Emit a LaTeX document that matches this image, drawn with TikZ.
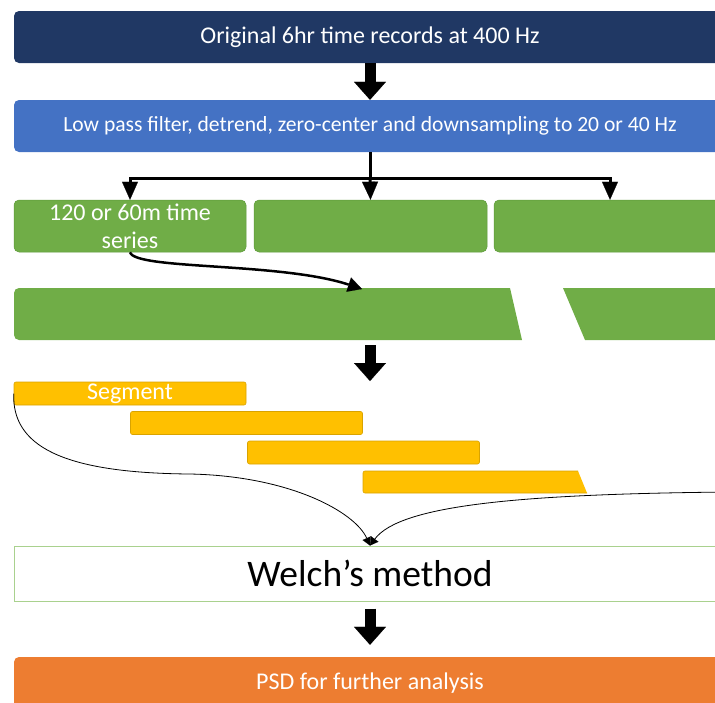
\documentclass[tikz,border=0pt]{standalone}
\usepackage{fontspec}
\setmainfont{Carlito}
\usetikzlibrary{arrows.meta}

\definecolor{navybox}{HTML}{203864}
\definecolor{bluebox}{HTML}{4472C4}
\definecolor{greenbox}{HTML}{70AD47}
\definecolor{greenedge}{HTML}{5E9A3A}
\definecolor{welchedge}{HTML}{A9D18E}
\definecolor{segfill}{HTML}{FFC000}
\definecolor{segedge}{HTML}{D9A300}
\definecolor{orangebox}{HTML}{ED7D31}

\begin{document}
\begin{tikzpicture}[x=1pt, y=-1pt,
    stagebox/.style={rounded corners=5pt, inner sep=0pt, minimum height=52pt, text=white, align=center},
    segbox/.style={rounded corners=2pt, inner sep=0pt, minimum width=232pt, minimum height=23pt, fill=segfill, draw=segedge, line width=0.6pt},
    bigarrow/.style={line width=11pt, -{Triangle[width=32pt, length=18pt, line width=0.1pt]}},
    splitarrow/.style={line width=3pt, -{Triangle[width=16pt, length=18pt, line width=0.1pt]}},
    thinarrow/.style={line width=0.8pt, -{Triangle[width=9pt, length=8pt, line width=0.1pt]}}]

        \clip (0,0) rectangle (715,702);

        % ------------------ Preprocessing ------------------

        % Raw records
        \node[stagebox, fill=navybox, minimum width=712pt, font=\fontsize{24}{28}\selectfont] (orig) at (370,37) {Original 6hr time records at 400 Hz};

        % Filtering
        \node[stagebox, fill=bluebox, minimum width=712pt, font=\fontsize{21.6}{26}\selectfont] (filt) at (370,126) {Low pass filter, detrend, zero-center and downsampling to 20 or 40 Hz};

        % Time series pieces
        \node[stagebox, fill=greenbox, draw=greenedge, line width=0.5pt, minimum width=232pt, font=\fontsize{24}{28}\selectfont] (ts1) at (130,226) {120 or 60m time\\series};
        \node[stagebox, fill=greenbox, draw=greenedge, line width=0.5pt, minimum width=233pt] (ts2) at (370.5,226) {};
        \node[stagebox, fill=greenbox, draw=greenedge, line width=0.5pt, minimum width=232pt] (ts3) at (610,226) {};

        % Arrows
        \coordinate (split) at (370,178);
        \draw[bigarrow] (orig) -- (filt);
        \draw[line width=3pt] (filt.south) -- (split);
        \draw[splitarrow] (split) -| (ts1.north);
        \draw[splitarrow] (split) -- (ts2.north);
        \draw[splitarrow] (split) -| (ts3.north);

        % ------------------ One long series ------------------

        \fill[greenbox] (510,288) [rounded corners=5pt] -- (14,288) -- (14,340) [sharp corners] -- (522,340) -- cycle;
        \fill[greenbox] (563,288) -- (740,288) -- (740,340) -- (585,340) -- cycle;

        \coordinate (bartop) at (362,289);
        \coordinate (barbot) at (370,345);
        \coordinate (segtop) at (370,381);

        \draw[line width=2.5pt, -{Triangle[width=15pt, length=14pt, line width=0.1pt]}] (ts1.south) .. controls (135,270) and (280,262) .. (bartop);
        \draw[bigarrow] (barbot) -- (segtop);

        % ------------------ Segments ------------------

        \node[segbox, text=white, font=\fontsize{24}{28}\selectfont] (seg1) at (130,393.5) {Segment};
        \node[segbox] (seg2) at (246.5,423) {};
        \node[segbox] (seg3) at (363.5,452.5) {};
        \fill[segfill] (578,471) [rounded corners=2pt] -- (363,471) -- (363,493) [sharp corners] -- (587,493) -- cycle;
        \draw[segedge, line width=0.6pt] (578,471) [rounded corners=2pt] -- (363,471) -- (363,493) [sharp corners] -- (587,493);

        % ------------------ Welch and PSD ------------------

        \node[draw=welchedge, line width=1pt, fill=white, inner sep=0pt, minimum width=712pt, minimum height=55pt, font=\fontsize{37.5}{44}\selectfont] (welch) at (370,573.5) {Welch’s method};

        \node[stagebox, fill=orangebox, minimum width=712pt, font=\fontsize{24}{28}\selectfont] (psd) at (370,683) {PSD for further analysis};

        % Arrows
        \coordinate (rin) at (730,492);
        \draw[thinarrow] (seg1.west) .. controls (12,445) and (60,473) .. (190,474) .. controls (290,476) and (355,512) .. (welch.north);
        \draw[thinarrow] (rin) .. controls (520,494) and (400,505) .. (welch.north);
        \draw[bigarrow, shorten <=7pt, shorten >=12pt] (welch) -- (psd);

    \end{tikzpicture}
\end{document}
